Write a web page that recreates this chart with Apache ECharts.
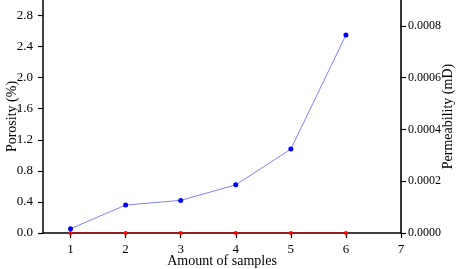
<!DOCTYPE html>
<html>
<head>
<meta charset="utf-8">
<script src="https://cdn.jsdelivr.net/npm/echarts@6/dist/echarts.min.js"></script>
<style>
html, body {margin: 0; padding: 0; background: #fff;}
#chart {width: 457px; height: 269px;}
</style>
</head>
<body>
<div id="chart"></div>
<script>
var aSamples = [1, 2, 3, 4, 5, 6];
var aPorosity = [0.055, 0.36, 0.42, 0.62, 1.08, 2.55];
var aPermeability = [0, 0, 0, 0, 0, 0];
var aXTicks = [1, 2, 3, 4, 5, 6, 7];
var aPorTicks = [0, 0.4, 0.8, 1.2, 1.6, 2.0, 2.4, 2.8];
var aPermTicks = [0, 0.0002, 0.0004, 0.0006, 0.0008];

function pairs(xs, ys) {
	var out = [];
	for (var i = 0; i < xs.length; i++) {
		out.push([xs[i], ys[i]]);
	}
	return out;
}

var sFont = '"Liberation Serif", "Times New Roman", serif';
var oAxisLine = {show: true, lineStyle: {color: '#000', width: 1.5}};

var oChart = echarts.init(document.getElementById('chart'));
oChart.setOption({
	animation: false,
	grid: {left: 43, right: 56, top: 0, bottom: 36, containLabel: false, outerBoundsMode: 'none'},
	xAxis: {
		type: 'value',
		min: 0.5,
		max: 7,
		name: 'Amount of samples',
		nameLocation: 'middle',
		nameGap: 21,
		nameMoveOverlap: false,
		nameTextStyle: {fontFamily: sFont, fontSize: 14, color: '#000'},
		axisLine: oAxisLine,
		splitLine: {show: false},
		axisLabel: {fontFamily: sFont, fontSize: 13, color: '#000', margin: 10, customValues: aXTicks},
		axisTick: {show: true, length: 5, lineStyle: {color: '#000', width: 1.2}, customValues: aXTicks}
	},
	yAxis: [{
		type: 'value',
		position: 'left',
		min: 0,
		max: 3,
		name: 'Porosity (%)',
		nameLocation: 'middle',
		nameGap: 24,
		nameMoveOverlap: false,
		nameTextStyle: {fontFamily: sFont, fontSize: 14, color: '#000'},
		axisLine: oAxisLine,
		splitLine: {show: false},
		axisTick: {show: true, length: 5, lineStyle: {color: '#000', width: 1.2}, customValues: aPorTicks},
		axisLabel: {
			fontFamily: sFont, fontSize: 13, color: '#000', margin: 10,
			customValues: aPorTicks,
			formatter: function (v) { return v.toFixed(1); }
		}
	}, {
		type: 'value',
		position: 'right',
		min: 0,
		max: 0.0009,
		name: 'Permeability (mD)',
		nameLocation: 'middle',
		nameGap: 40,
		nameMoveOverlap: false,
		nameTextStyle: {fontFamily: sFont, fontSize: 14, color: '#000'},
		axisLine: {show: true, lineStyle: {color: '#333', width: 2}},
		splitLine: {show: false},
		axisTick: {show: true, length: 5, lineStyle: {color: '#000', width: 1.2}, customValues: aPermTicks},
		axisLabel: {
			fontFamily: sFont, fontSize: 12, color: '#000', margin: 7,
			customValues: aPermTicks,
			formatter: function (v) { return v.toFixed(4); }
		}
	}],
	series: [{
		name: 'Porosity',
		type: 'line',
		yAxisIndex: 0,
		data: pairs(aSamples, aPorosity),
		symbol: 'circle',
		symbolSize: 5,
		lineStyle: {color: '#8080ff', width: 1},
		itemStyle: {color: '#0000ff'}
	}, {
		name: 'Permeability',
		type: 'line',
		yAxisIndex: 1,
		data: pairs(aSamples, aPermeability),
		symbol: 'circle',
		symbolSize: 4,
		lineStyle: {color: '#e00000', width: 1.2},
		itemStyle: {color: '#ff0000'},
		z: 3
	}]
});
</script>
</body>
</html>
